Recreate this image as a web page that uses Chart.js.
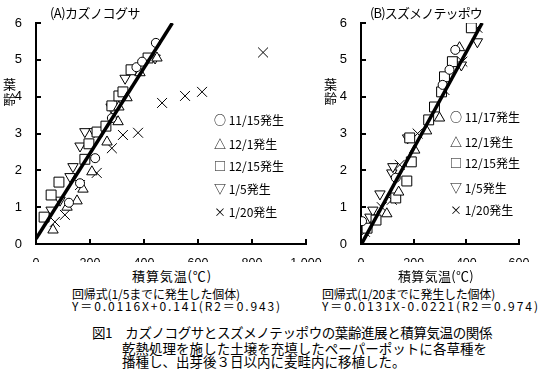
<!DOCTYPE html>
<html>
<head>
<meta charset="utf-8">
<script src="https://cdn.jsdelivr.net/npm/chart.js@4"></script>
<style>
body{margin:0;background:#fff;width:547px;height:370px;overflow:hidden;position:relative;font-family:"Noto Sans CJK JP","Noto Sans",sans-serif;color:#000}
canvas{position:absolute;top:0}
.t{position:absolute;white-space:nowrap;font-size:13px;line-height:16px}
.s{font-size:12px;line-height:13px}
.c{font-size:13.5px;line-height:15px}
</style>
</head>
<body>
<canvas id="chartA" width="340" height="262" style="left:0px;width:340px;height:262px"></canvas>
<canvas id="chartB" width="217" height="262" style="left:330px;width:217px;height:262px"></canvas>

<div class="t fit" data-w="90" style="left:50px;top:5px">(A)カズノコグサ</div>
<div class="t fit" data-w="112" style="left:370px;top:5px">(B)スズメノテッポウ</div>
<div class="t" style="left:3px;top:76px;line-height:15px">葉<br>齢</div>
<div class="t" style="left:324px;top:77px;line-height:14px">葉<br>齢</div>

<div id="legA"></div>
<div id="legB"></div>

<div class="t fit" data-w="80" style="left:132px;top:268px">積算気温(℃)</div>
<div class="t fit" data-w="76" style="left:398px;top:268px">積算気温(℃)</div>
<div class="t s fit" data-w="168" style="left:72px;top:287px">回帰式(1/5までに発生した個体)</div>
<div class="t s fit" data-w="210" style="left:72px;top:299px">Y＝0.0116X+0.141(R2＝0.943)</div>
<div class="t s fit" data-w="173" style="left:322px;top:287px">回帰式(1/20までに発生した個体)</div>
<div class="t s fit" data-w="218" style="left:322px;top:299px">Y＝0.0131X-0.0221(R2＝0.974)</div>
<div class="t c fit" data-w="400" style="left:92px;top:325px">図1　カズノコグサとスズメノテッポウの葉齢進展と積算気温の関係</div>
<div class="t c fit" data-w="365" style="left:122px;top:341px">乾熱処理を施した土壌を充填したペーパーポットに各草種を</div>
<div class="t c" style="left:122px;top:354px">播種し、出芽後３日以内に麦畦内に移植した。</div>

<script>
// tick labels
const yTicks=[0,1,2,3,4,5,6]
const xTicksA=[0,200,400,600,800,1000]
const xTicksB=[0,200,400,600]

// (A) カズノコグサ
const labelsA=["11/15発生","12/1発生","12/15発生","1/5発生","1/20発生"]
const a1115=[{x:122,y:1.12},{x:163,y:1.65},{x:219,y:2.33},{x:281,y:3.42},{x:372,y:4.8},{x:393,y:4.95},{x:444,y:5.46}]
const a1201=[{x:63,y:0.38},{x:115,y:1.0},{x:152,y:1.17},{x:174,y:1.49},{x:207,y:1.96},{x:263,y:2.77},{x:304,y:3.32},{x:307,y:3.72},{x:337,y:3.97},{x:385,y:4.65},{x:448,y:5.05}]
const a1215=[{x:30,y:0.73},{x:56,y:1.33},{x:85,y:1.68},{x:181,y:2.3},{x:196,y:2.72},{x:226,y:3.04},{x:259,y:3.2},{x:281,y:3.75},{x:307,y:4.02},{x:322,y:4.13},{x:352,y:4.73},{x:415,y:5.05}]
const a0105=[{x:56,y:0.92},{x:89,y:1.19},{x:126,y:1.83},{x:137,y:2.1},{x:163,y:2.66},{x:181,y:3.05},{x:215,y:3.05},{x:278,y:3.72},{x:330,y:4.5},{x:441,y:5.05}]
const a0120=[{x:70,y:0.6},{x:107,y:0.79},{x:163,y:1.6},{x:225,y:1.93},{x:281,y:2.6},{x:322,y:2.96},{x:378,y:3.02},{x:467,y:3.83},{x:552,y:4.02},{x:615,y:4.13},{x:841,y:5.2}]
const regA=[{x:0,y:0.14},{x:505,y:6}]

// (B) スズメノテッポウ
const labelsB=["11/17発生","12/1発生","12/15発生","1/5発生","1/20発生"]
const b1117=[{x:4,y:0.62},{x:132,y:1.8},{x:310,y:4.32},{x:336,y:4.73},{x:358,y:5.27}]
const b1201=[{x:98,y:0.82},{x:143,y:1.41},{x:204,y:2.55},{x:249,y:3.07},{x:298,y:3.42},{x:374,y:5.33}]
const b1215=[{x:23,y:0.43},{x:57,y:0.65},{x:132,y:1.25},{x:174,y:1.71},{x:191,y:2.23},{x:185,y:2.88},{x:257,y:3.37},{x:279,y:3.72},{x:306,y:4.13},{x:317,y:4.54},{x:347,y:4.95},{x:419,y:5.87}]
const b0105=[{x:34,y:0.73},{x:45,y:0.92},{x:72,y:1.36},{x:117,y:1.93},{x:121,y:2.1},{x:177,y:2.88},{x:279,y:3.72},{x:328,y:4.4},{x:381,y:4.86},{x:442,y:5.49}]
const b0120=[{x:15,y:0.33},{x:79,y:1.0},{x:117,y:1.2},{x:147,y:2.15},{x:215,y:3.0},{x:317,y:4.18},{x:385,y:4.95},{x:442,y:5.87}]
const regB=[{x:2,y:0},{x:460,y:6}]

const styles=[
{pointStyle:"circle",radius:4.5,rotation:0},
{pointStyle:"triangle",radius:6,rotation:0},
{pointStyle:"rect",radius:7,rotation:0},
{pointStyle:"triangle",radius:6,rotation:180},
{pointStyle:"crossRot",radius:7,rotation:0}
]
const legendChars=["○ ","△ ","□ ","▽ ","× "]

function sets(series,labels,reg){
let out=series.map((d,i)=>({
label:labels[i],
data:d,
order:1,
pointStyle:styles[i].pointStyle,
pointRadius:styles[i].radius,
pointRotation:styles[i].rotation,
pointBackgroundColor:"#fff",
pointBorderColor:"#000",
pointBorderWidth:1
}))
out.push({
label:"reg",
data:reg,
order:0,
showLine:true,
borderColor:"#000",
borderWidth:3.5,
pointRadius:0
})
return out
}

// short inward tick marks
const innerTicks={
id:"innerTicks",
afterDraw(chart){
let ctx=chart.ctx
let xs=chart.scales.x,ys=chart.scales.y
ctx.save()
ctx.strokeStyle="#000"
ctx.lineWidth=2
xs.ticks.forEach(t=>{
let p=Math.round(xs.getPixelForValue(t.value))
ctx.beginPath()
ctx.moveTo(p,ys.bottom)
ctx.lineTo(p,ys.bottom-5)
ctx.stroke()
})
ys.ticks.forEach(t=>{
let p=Math.round(ys.getPixelForValue(t.value))
ctx.beginPath()
ctx.moveTo(xs.left,p)
ctx.lineTo(xs.left+5,p)
ctx.stroke()
})
ctx.restore()
}
}

function makeChart(id,data,xmax,xTicks,yWidth,padRight){
return new Chart(document.getElementById(id),{
type:"scatter",
data:{datasets:data},
plugins:[innerTicks],
options:{
responsive:false,
animation:false,
layout:{padding:{top:23,right:padRight,left:0,bottom:0}},
plugins:{legend:{display:false},tooltip:{enabled:false}},
scales:{
x:{
type:"linear",min:0,max:xmax,
afterBuildTicks:s=>{s.ticks=xTicks.map(v=>({value:v}))},
afterFit:s=>{s.height=18},
grid:{display:false},
border:{display:true,color:"#000",width:2},
ticks:{color:"#000",padding:4,font:{family:"Liberation Sans",size:12.5},maxRotation:0,autoSkip:false,
callback:v=>v.toLocaleString("en-US")}
},
y:{
min:0,max:6,
afterBuildTicks:s=>{s.ticks=yTicks.map(v=>({value:v}))},
afterFit:s=>{s.width=yWidth},
grid:{display:false},
border:{display:true,color:"#000",width:2},
ticks:{color:"#000",padding:6,font:{family:"Liberation Sans",size:13}}
}
}
}
})
}

makeChart("chartA",sets([a1115,a1201,a1215,a0105,a0120],labelsA,regA),1000,xTicksA,36,34)
makeChart("chartB",sets([b1117,b1201,b1215,b0105,b0120],labelsB,regB),600,xTicksB,31,28)

function legend(id,labels,left,tops){
let box=document.getElementById(id)
labels.forEach((l,i)=>{
let d=document.createElement("div")
d.className="t"
d.style.left=left+"px"
d.style.top=(tops[i]-9)+"px"
d.style.fontSize="12px"
d.innerText=legendChars[i]+l
box.appendChild(d)
})
}
legend("legA",labelsA,214,[121,145,167,190,213])
legend("legB",labelsB,450,[118,143,164,189,211])

// stretch text lines to the widths in the picture
document.querySelectorAll(".fit").forEach(el=>{
let n=el.textContent.length
let w=el.getBoundingClientRect().width
el.style.letterSpacing=((+el.dataset.w-w)/n)+"px"
})
</script>
</body>
</html>
